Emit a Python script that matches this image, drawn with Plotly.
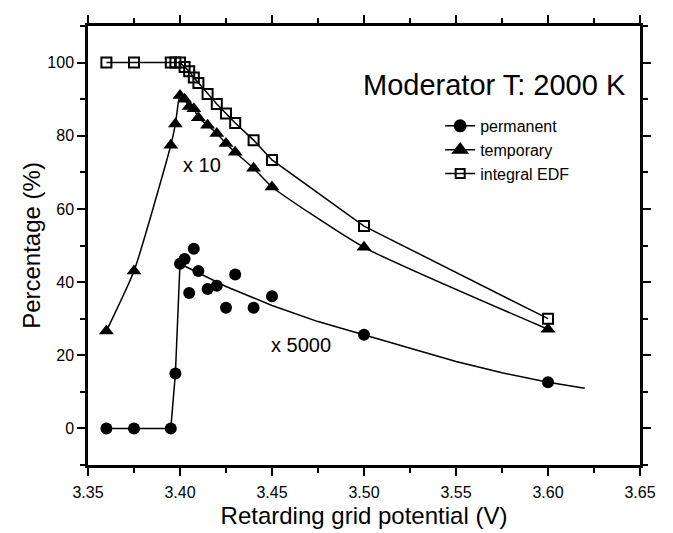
import plotly.graph_objects as go

# Data
x_pts = [3.36, 3.375, 3.395, 3.3975, 3.40, 3.4025, 3.405, 3.4075, 3.41,
         3.415, 3.42, 3.425, 3.43, 3.44, 3.45, 3.50, 3.60]
permanent = [0, 0, 0, 15.0, 45.0, 46.3, 37.0, 49.1, 43.0,
             38.1, 39.0, 33.0, 42.1, 33.0, 36.1, 25.6, 12.6]
temporary = [26.6, 43.0, 77.4, 83.2, 91.0, 90.0, 88.0, 87.4, 84.9,
             82.9, 80.6, 77.9, 75.5, 71.1, 66.0, 49.5, 27.1]
integral_edf = [100, 100, 100, 100, 100, 98.8, 97.6, 95.9, 94.4,
                91.4, 88.7, 86.1, 83.5, 78.8, 73.4, 55.3, 30.0]

# permanent: connecting line for the rise, then fit curve
perm_line_x = [3.36, 3.375, 3.395, 3.3975, 3.40, 3.425, 3.45, 3.475, 3.50,
               3.525, 3.55, 3.575, 3.60, 3.62]
perm_line_y = [0, 0, 0, 15.0, 45.0, 38.8, 33.6, 29.2, 25.5,
               21.9, 18.3, 15.2, 12.6, 11.0]

x_ticks = [3.35, 3.40, 3.45, 3.50, 3.55, 3.60, 3.65]
x_tick_labels = ["3.35", "3.40", "3.45", "3.50", "3.55", "3.60", "3.65"]
y_ticks = [0, 20, 40, 60, 80, 100]

FONT = "Liberation Sans, Arial, sans-serif"

fig = go.Figure()

# permanent
fig.add_trace(go.Scatter(x=perm_line_x, y=perm_line_y, mode="lines",
                         line=dict(color="black", width=1.5),
                         showlegend=False, hoverinfo="skip"))
fig.add_trace(go.Scatter(x=x_pts, y=permanent, mode="markers",
                         marker=dict(symbol="circle", size=12, color="black"),
                         showlegend=False))
# temporary
fig.add_trace(go.Scatter(x=x_pts, y=temporary, mode="lines",
                         line=dict(color="black", width=1.5, shape="spline", smoothing=0.5),
                         showlegend=False, hoverinfo="skip"))
fig.add_trace(go.Scatter(x=x_pts, y=temporary, mode="markers",
                         marker=dict(symbol="triangle-up", size=13, color="black"),
                         showlegend=False))
# integral EDF
fig.add_trace(go.Scatter(x=x_pts, y=integral_edf, mode="lines+markers",
                         line=dict(color="black", width=1.5),
                         marker=dict(symbol="square-open", size=10, color="black",
                                     line=dict(width=2, color="black")),
                         showlegend=False))

# legend entries
for name, sym, sz in [("permanent", "circle", 11), ("temporary", "triangle-up", 12),
                      ("integral EDF", "square-open", 9)]:
    fig.add_trace(go.Scatter(x=[None], y=[None], mode="lines+markers", name=name,
                             line=dict(color="black", width=1.5),
                             marker=dict(symbol=sym, size=sz, color="black",
                                         line=dict(width=2, color="black"))))

fig.add_annotation(x=3.5707, y=94.0, text="Moderator T: 2000 K", showarrow=False,
                   font=dict(size=29, color="black", family=FONT))
fig.add_annotation(x=3.4122, y=71.9, text="x 10", showarrow=False,
                   font=dict(size=20, color="black", family=FONT))
fig.add_annotation(x=3.466, y=22.9, text="x 5000", showarrow=False,
                   font=dict(size=20, color="black", family=FONT))

axis_common = dict(showline=True, linecolor="black", linewidth=2.5, mirror="ticks",
                   ticks="outside", ticklen=8, tickwidth=2, tickcolor="black",
                   showgrid=False, zeroline=False,
                   tickfont=dict(size=16, color="black", family=FONT))

fig.update_xaxes(range=[3.35, 3.65], tickvals=x_ticks, ticktext=x_tick_labels,
                 title=dict(text="Retarding grid potential (V)",
                            font=dict(size=24, color="black", family=FONT), standoff=8),
                 minor=dict(dtick=0.025, ticklen=5, tickwidth=1.5, tickcolor="black",
                            ticks="outside", tick0=3.35),
                 ticklabelstandoff=3,
                 **axis_common)
fig.update_yaxes(range=[-10, 110], tickvals=y_ticks,
                 title=dict(text="Percentage (%)",
                            font=dict(size=24, color="black", family=FONT), standoff=0),
                 minor=dict(dtick=10, ticklen=5, tickwidth=1.5, tickcolor="black",
                            ticks="outside", tick0=-10),
                 ticklabelstandoff=0,
                 **axis_common)

# page body has an 8 px default margin; margins compensate so plot area sits at x 88-640, y 15-465
fig.update_layout(width=673, height=533, plot_bgcolor="white", paper_bgcolor="white",
                  margin=dict(l=80, r=41, t=7, b=76),
                  font=dict(family=FONT, color="black"),
                  legend=dict(x=0.638, y=0.811, xanchor="left", yanchor="top",
                              bgcolor="rgba(0,0,0,0)", borderwidth=0,
                              font=dict(size=16, color="black", family=FONT),
                              tracegroupgap=0))

fig.write_html("out.html")
